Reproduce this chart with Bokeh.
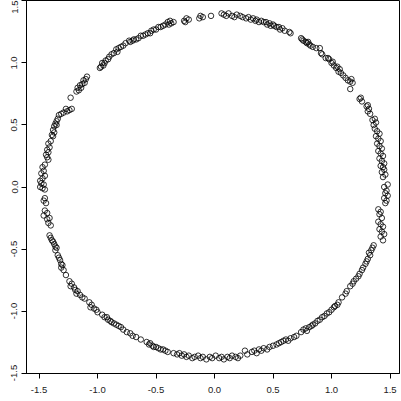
from bokeh.plotting import figure
from bokeh.models import Range1d, FixedTicker
from bokeh.embed import file_html
from bokeh.resources import INLINE

# Points (data units), walking round the ring
x_right = [1.44, 1.42, 1.45, 1.43, 1.41, 1.44, 1.42, 1.40, 1.43, 1.41, 1.42, 1.40,
           1.46, 1.47, 1.45, 1.48, 1.46, 1.47, 1.45, 1.48,
           1.44, 1.46, 1.43, 1.45, 1.44, 1.42, 1.45, 1.43, 1.41, 1.44, 1.42, 1.40,
           1.43, 1.41, 1.39, 1.42, 1.40, 1.38, 1.41, 1.39, 1.37,
           1.36, 1.38, 1.35, 1.37, 1.33, 1.31, 1.32, 1.30, 1.31, 1.26, 1.24, 1.25, 1.16]
y_right = [-0.43, -0.40, -0.38, -0.36, -0.34, -0.32, -0.30, -0.28, -0.25, -0.22, -0.20, -0.18,
           -0.13, -0.11, -0.09, -0.07, -0.05, -0.03, 0.00, 0.02,
           0.08, 0.10, 0.12, 0.14, 0.16, 0.17, 0.19, 0.21, 0.23, 0.25, 0.27, 0.29,
           0.31, 0.33, 0.35, 0.37, 0.39, 0.41, 0.43, 0.45, 0.47,
           0.50, 0.52, 0.54, 0.55, 0.59, 0.61, 0.63, 0.65, 0.66, 0.69, 0.71, 0.72, 0.79]

x_top = [1.18, 1.16, 1.14, 1.17, 1.12, 1.10, 1.08, 1.06, 1.07, 1.04, 1.05, 1.02, 1.00, 1.01,
         0.98, 0.97, 0.95, 0.92, 0.91,
         0.90, 0.87, 0.84, 0.82, 0.81, 0.79, 0.78, 0.80, 0.76, 0.75, 0.74, 0.64, 0.65,
         0.60, 0.58, 0.56, 0.55, 0.53, 0.51, 0.50, 0.48, 0.47, 0.45, 0.44, 0.42, 0.40, 0.38, 0.36, 0.35,
         0.33, 0.31, 0.29, 0.27, 0.24, 0.22, 0.19, 0.17, 0.15, 0.12, 0.10, 0.08, 0.06,
         -0.03, -0.10, -0.12, -0.13, -0.22, -0.24, -0.26, -0.25, -0.35, -0.37, -0.38, -0.40, -0.39,
         -0.42, -0.44, -0.46, -0.48, -0.50, -0.52, -0.54, -0.55, -0.57, -0.59, -0.61, -0.63,
         -0.65, -0.67, -0.69, -0.70, -0.72, -0.73]
y_top = [0.84, 0.85, 0.86, 0.87, 0.88, 0.90, 0.92, 0.93, 0.95, 0.96, 0.97, 0.98, 1.00, 1.01,
         1.03, 1.04, 1.04, 1.07, 1.08,
         1.12, 1.12, 1.13, 1.14, 1.15, 1.16, 1.17, 1.17, 1.18, 1.19, 1.20, 1.25, 1.24,
         1.26, 1.28, 1.27, 1.29, 1.29, 1.30, 1.31, 1.30, 1.32, 1.31, 1.33, 1.33, 1.34, 1.33, 1.35, 1.34,
         1.36, 1.35, 1.37, 1.36, 1.37, 1.38, 1.39, 1.37, 1.38, 1.40, 1.38, 1.39, 1.40,
         1.38, 1.37, 1.38, 1.36, 1.35, 1.36, 1.34, 1.33, 1.33, 1.32, 1.34, 1.33, 1.31,
         1.31, 1.30, 1.29, 1.29, 1.27, 1.27, 1.26, 1.24, 1.24, 1.23, 1.22, 1.22,
         1.20, 1.19, 1.19, 1.18, 1.17, 1.18]

x_left = [-0.76, -0.78, -0.80, -0.82, -0.84, -0.83, -0.86, -0.88, -0.90, -0.91, -0.93, -0.94,
          -0.96, -0.95, -0.97, -0.98,
          -1.09, -1.10, -1.12, -1.11, -1.13, -1.15, -1.14, -1.17, -1.16, -1.18, -1.23,
          -1.22, -1.24, -1.26, -1.27, -1.29, -1.31, -1.33,
          -1.34, -1.35, -1.36, -1.35, -1.37, -1.38, -1.37, -1.39, -1.38,
          -1.40, -1.42, -1.41, -1.43, -1.42, -1.44, -1.43, -1.42,
          -1.45, -1.47, -1.46, -1.48, -1.45, -1.47, -1.49, -1.48, -1.46, -1.49, -1.47, -1.45,
          -1.45, -1.46, -1.44,
          -1.45, -1.43, -1.46, -1.41, -1.43, -1.42, -1.40,
          -1.41, -1.40, -1.39, -1.38, -1.37, -1.36, -1.35, -1.36,
          -1.34, -1.33, -1.32, -1.31, -1.30, -1.31, -1.29, -1.27]
y_left = [1.16, 1.14, 1.13, 1.12, 1.11, 1.09, 1.08, 1.07, 1.05, 1.03, 1.02, 1.00,
          1.00, 0.98, 0.97, 0.96,
          0.89, 0.87, 0.86, 0.84, 0.83, 0.82, 0.80, 0.80, 0.78, 0.77, 0.72,
          0.63, 0.62, 0.61, 0.63, 0.60, 0.59, 0.58,
          0.55, 0.53, 0.51, 0.50, 0.49, 0.46, 0.44, 0.42, 0.41,
          0.37, 0.35, 0.32, 0.30, 0.28, 0.26, 0.24, 0.22,
          0.18, 0.16, 0.13, 0.11, 0.09, 0.07, 0.05, 0.03, 0.02, 0.00, -0.01, -0.02,
          -0.09, -0.11, -0.13,
          -0.19, -0.21, -0.23, -0.25, -0.26, -0.29, -0.31,
          -0.39, -0.41, -0.43, -0.44, -0.46, -0.48, -0.49, -0.51,
          -0.55, -0.57, -0.59, -0.62, -0.63, -0.65, -0.67, -0.71]

x_bottom = [-1.24, -1.22, -1.23, -1.20, -1.19, -1.17, -1.18, -1.15, -1.13, -1.11,
            -1.07, -1.05, -1.06, -1.03, -1.01, -1.00,
            -0.96, -0.94, -0.92, -0.91, -0.89, -0.88, -0.86, -0.84, -0.82, -0.80,
            -0.78, -0.75, -0.72, -0.70, -0.67, -0.63,
            -0.58, -0.56, -0.55, -0.53, -0.52, -0.50, -0.48, -0.46, -0.44, -0.42, -0.40,
            -0.35, -0.32, -0.30, -0.28, -0.26, -0.24, -0.22, -0.19, -0.17, -0.14, -0.12, -0.10,
            -0.07, -0.04, -0.02, 0.01, 0.04, 0.06, 0.08, 0.11, 0.13, 0.15, 0.18, 0.20, 0.22,
            0.26, 0.28, 0.32, 0.34, 0.36, 0.38, 0.40, 0.42, 0.45, 0.47, 0.50,
            0.53, 0.55, 0.57, 0.59, 0.61, 0.63, 0.65, 0.68, 0.70,
            0.74, 0.76, 0.78, 0.79, 0.81, 0.83, 0.84, 0.86, 0.88, 0.90,
            0.92, 0.94, 0.96, 0.98, 1.00, 1.02, 1.03, 1.05, 1.06,
            1.09, 1.12, 1.13,
            1.16, 1.18, 1.19, 1.21, 1.23, 1.24,
            1.26, 1.27, 1.29, 1.30, 1.31, 1.33, 1.32, 1.34, 1.35, 1.36]
y_bottom = [-0.76, -0.78, -0.80, -0.81, -0.83, -0.84, -0.86, -0.87, -0.89, -0.90,
            -0.93, -0.95, -0.97, -0.98, -0.99, -1.01,
            -1.03, -1.05, -1.05, -1.07, -1.08, -1.09, -1.10, -1.11, -1.12, -1.13,
            -1.15, -1.17, -1.18, -1.20, -1.21, -1.23,
            -1.25, -1.27, -1.26, -1.28, -1.29, -1.29, -1.30, -1.31, -1.31, -1.32, -1.33,
            -1.34, -1.35, -1.34, -1.36, -1.35, -1.37, -1.36, -1.38, -1.37, -1.36, -1.38, -1.37,
            -1.39, -1.37, -1.38, -1.36, -1.38, -1.37, -1.39, -1.37, -1.38, -1.36, -1.37, -1.38, -1.36,
            -1.32, -1.35, -1.33, -1.32, -1.34, -1.31, -1.32, -1.30, -1.31, -1.29, -1.28,
            -1.27, -1.26, -1.25, -1.24, -1.23, -1.24, -1.22, -1.21, -1.20,
            -1.17, -1.15, -1.14, -1.16, -1.13, -1.12, -1.11, -1.10, -1.08, -1.07,
            -1.05, -1.04, -1.02, -1.01, -0.99, -0.97, -0.96, -0.95, -0.93,
            -0.89, -0.86, -0.84,
            -0.80, -0.78, -0.76, -0.74, -0.72, -0.70,
            -0.67, -0.65, -0.62, -0.60, -0.58, -0.55, -0.53, -0.51, -0.49, -0.47]

xs = x_right + x_top + x_left + x_bottom
ys = y_right + y_top + y_left + y_bottom

tick_values = [-1.5, -1.0, -0.5, 0.0, 0.5, 1.0, 1.5]
tick_labels = ["-1.5", "-1.0", "-0.5", "0.0", "0.5", "1.0", "1.5"]

p = figure(width=401, height=401, output_backend="svg", toolbar_location=None,
           x_range=Range1d(-1.607, 1.581), y_range=Range1d(-1.504, 1.504),
           min_border_left=26, min_border_right=2, min_border_top=0, min_border_bottom=28)

p.scatter(xs, ys, size=5.5, fill_color=None, line_color="black", line_width=0.8)

p.grid.visible = False
p.outline_line_color = "black"
p.outline_line_width = 1

for ax in (p.xaxis[0], p.yaxis[0]):
    ax.ticker = FixedTicker(ticks=tick_values)
    ax.major_label_overrides = {v: s for v, s in zip(tick_values, tick_labels)}
    ax.minor_tick_line_color = None
    ax.major_tick_in = 0
    ax.major_tick_out = 5
    ax.axis_line_color = "black"
    ax.major_tick_line_color = "black"
    ax.major_label_text_font = "Liberation Sans"
    ax.major_label_text_font_size = "9.5px"
    ax.major_label_text_color = "#222222"

p.xaxis.major_label_standoff = 8
p.yaxis.major_label_standoff = 4
p.yaxis.major_label_orientation = "vertical"

open("out.html", "w").write(file_html(p, INLINE))
